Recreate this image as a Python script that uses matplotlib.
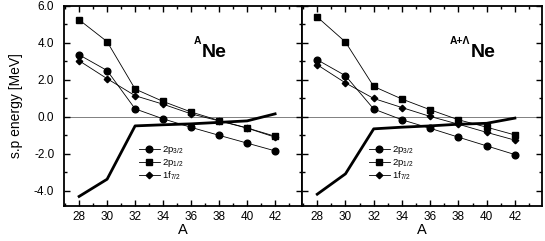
import numpy as np
import matplotlib
matplotlib.use("Agg")
import matplotlib.pyplot as plt
from matplotlib.ticker import MultipleLocator

plt.rcParams['font.family'] = ['Liberation Sans', 'DejaVu Sans']
plt.rcParams['mathtext.fontset'] = 'custom'
plt.rcParams['mathtext.rm'] = 'Liberation Sans'

# mass number
A = [28, 30, 32, 34, 36, 38, 40, 42]

# ^A Ne (left panel)
ne_p32 = [3.35, 2.50, 0.43, -0.11, -0.57, -1.00, -1.42, -1.84]
ne_p12 = [5.24, 4.06, 1.50, 0.83, 0.26, -0.20, -0.60, -1.05]
ne_f72 = [3.03, 2.06, 1.14, 0.68, 0.16, -0.22, -0.61, -1.10]
ne_fermi = [-4.30, -3.37, -0.49, -0.43, -0.38, -0.30, -0.22, 0.16]

# ^{A+Lambda} Ne (right panel)
hne_p32 = [3.08, 2.22, 0.42, -0.16, -0.62, -1.10, -1.57, -2.04]
hne_p12 = [5.39, 4.04, 1.64, 0.96, 0.38, -0.16, -0.56, -0.98]
hne_f72 = [2.81, 1.83, 0.99, 0.50, 0.02, -0.40, -0.84, -1.26]
hne_fermi = [-4.18, -3.08, -0.65, -0.56, -0.49, -0.40, -0.35, -0.07]

labels = ["2p$_{3/2}$", "2p$_{1/2}$", "1f$_{7/2}$"]

fig = plt.figure(figsize=(5.45, 2.41), dpi=100)
ax1 = fig.add_axes([0.1174, 0.1465, 0.4367, 0.8298])
ax2 = fig.add_axes([0.5541, 0.1465, 0.4404, 0.8298])


def draw_panel(ax, p32, p12, f72, fermi, leg_x):
    ax.axhline(0, color='gray', lw=0.7, zorder=1)
    ax.plot(A, p32, '-o', color='black', lw=0.6, ms=4.8, label=labels[0])
    ax.plot(A, p12, '-s', color='black', lw=0.6, ms=4.2, label=labels[1])
    ax.plot(A, f72, '-D', color='black', lw=0.6, ms=3.3, label=labels[2])
    ax.plot(A, fermi, '-', color='black', lw=2.0)
    ax.set_xlim(26.92, 43.92)
    ax.set_ylim(-4.8, 6.0)
    ax.xaxis.set_major_locator(MultipleLocator(2))
    ax.xaxis.set_minor_locator(MultipleLocator(1))
    ax.yaxis.set_major_locator(MultipleLocator(2))
    ax.yaxis.set_minor_locator(MultipleLocator(1))
    ax.tick_params(which='both', direction='in', top=True, right=True,
                   labelsize=8.5, width=1.0)
    ax.tick_params(axis='x', pad=4)
    ax.tick_params(axis='y', pad=7)
    ax.tick_params(which='major', length=4)
    ax.tick_params(which='minor', length=2.5)
    for s in ax.spines.values():
        s.set_linewidth(1.3)
    ax.set_xlabel("A", fontsize=10.5, labelpad=0)
    ax.legend(loc='center left', bbox_to_anchor=(leg_x, 0.213), frameon=False,
              fontsize=6.8, handlelength=2.2, handletextpad=0.25,
              labelspacing=0.1, borderpad=0, borderaxespad=0)


draw_panel(ax1, ne_p32, ne_p12, ne_f72, ne_fermi, 0.315)
draw_panel(ax2, hne_p32, hne_p12, hne_f72, hne_fermi, 0.279)

ax1.set_yticklabels([f"{v:.1f}" for v in ax1.get_yticks()])
ax1.set_ylabel("s.p energy [MeV]", fontsize=10, labelpad=8)
ax2.tick_params(labelleft=False)

ax1.text(0.578, 0.745, "Ne", transform=ax1.transAxes, fontsize=14,
         fontweight='bold', ha='left', va='baseline')
ax1.text(0.578, 0.81, "A", transform=ax1.transAxes, fontsize=7.5,
         fontweight='bold', ha='right', va='baseline')
ax2.text(0.704, 0.745, "Ne", transform=ax2.transAxes, fontsize=14,
         fontweight='bold', ha='left', va='baseline')
ax2.text(0.700, 0.81, "A+\u039b", transform=ax2.transAxes, fontsize=7.5,
         fontweight='bold', ha='right', va='baseline')

fig.savefig("out.png", dpi=100)
